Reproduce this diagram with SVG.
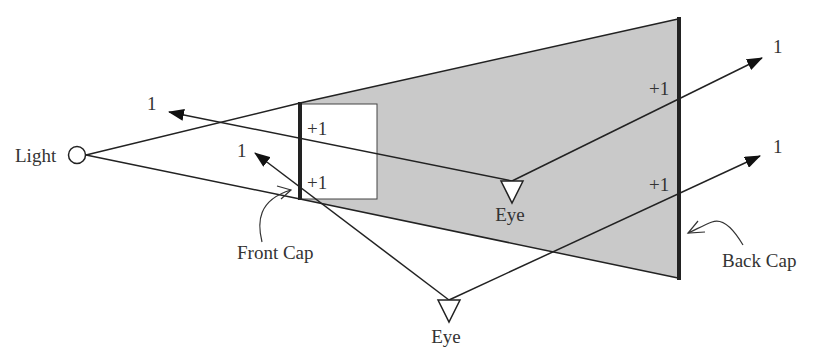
<svg xmlns="http://www.w3.org/2000/svg" width="820" height="350" viewBox="0 0 820 350">
<style>
text{font-family:"Liberation Serif","Times New Roman",serif;font-size:19px;fill:#333}
.ln{stroke:#222;stroke-width:1.5;fill:none}
.cap{stroke:#222;stroke-width:4;fill:none}
.ray{stroke:#222;stroke-width:1.5;fill:none;marker-end:url(#ah)}
.eye{fill:#fff;stroke:#222;stroke-width:1.5}
.thin{stroke:#333;stroke-width:1.2;fill:none}
</style>
<defs>
<marker id="ah" markerUnits="userSpaceOnUse" markerWidth="16" markerHeight="12" refX="15" refY="6" orient="auto">
<path d="M0,0 L16,6 L0,12 z" fill="#111"/>
</marker>
</defs>
<rect width="820" height="350" fill="#fff"/>
<g id="shadow-volume">
<polygon points="300,103 678,19 678,278 300,199" fill="#c9c9c9"/>
<rect x="300" y="104" width="77" height="95" fill="#fff" stroke="#444" stroke-width="1"/>
<path class="ln" d="M86,155 L300,103 L678,19"/>
<path class="ln" d="M86,155 L300,199 L678,278"/>
</g>
<g id="light">
<circle cx="77" cy="155" r="8.5" fill="#fff" stroke="#222" stroke-width="1.5"/>
<text x="15" y="162">Light</text>
</g>
<g id="front-cap">
<line class="cap" x1="300" y1="102" x2="300" y2="200"/>
<text x="307" y="135">+1</text>
<text x="307" y="189">+1</text>
</g>
<g id="back-cap">
<line class="cap" x1="679" y1="17" x2="679" y2="280"/>
<text x="649" y="95">+1</text>
<text x="649" y="191">+1</text>
</g>
<g id="connectors">
<line class="ray" x1="512" y1="181" x2="169" y2="112"/>
<line class="ray" x1="512" y1="181" x2="762" y2="58"/>
<line class="ray" x1="449" y1="300" x2="255" y2="153"/>
<line class="ray" x1="449" y1="300" x2="760" y2="156"/>
<path class="thin" d="M262,242 C257,222 258,200 291,190"/>
<path class="thin" d="M277,186 L291,190 L281,199"/>
<path class="thin" d="M743,245 C733,228 722,218 712,222 C704,225 695,230 688,233"/>
<path class="thin" d="M698,221 L688,233 L705,232"/>
</g>
<g id="labels">
<text x="147" y="110">1</text>
<text x="237" y="157">1</text>
<text x="773" y="53">1</text>
<text x="773" y="153">1</text>
<text x="237" y="259">Front Cap</text>
<text x="722" y="267">Back Cap</text>
</g>
<g id="eye1">
<polygon class="eye" points="501,181 523,181 512,203"/>
<text x="510" y="221" text-anchor="middle">Eye</text>
</g>
<g id="eye2">
<polygon class="eye" points="438,300 460,300 449,322"/>
<text x="446" y="343" text-anchor="middle">Eye</text>
</g>
</svg>
